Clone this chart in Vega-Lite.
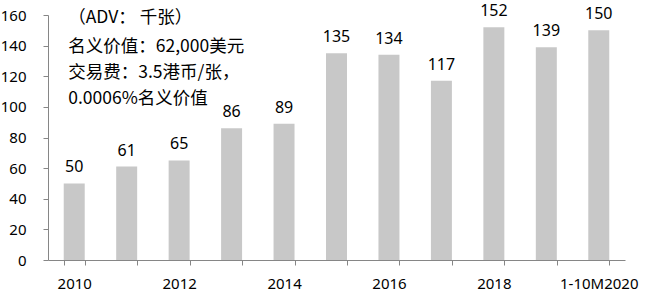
{
  "$schema": "https://vega.github.io/schema/vega-lite/v6.json",
  "width": 577,
  "height": 245,
  "autosize": "none",
  "padding": {"left": 48, "top": 15, "right": 20, "bottom": 40},
  "background": "white",
  "config": {"view": {"stroke": null}, "font": "Noto Sans", "axisY": {"labelOverlap": false}},
  "datasets": {
    "bars": [
      {"year": "2010", "adv": 50},
      {"year": "2011", "adv": 61},
      {"year": "2012", "adv": 65},
      {"year": "2013", "adv": 86},
      {"year": "2014", "adv": 89},
      {"year": "2015", "adv": 135},
      {"year": "2016", "adv": 134},
      {"year": "2017", "adv": 117},
      {"year": "2018", "adv": 152},
      {"year": "2019", "adv": 139},
      {"year": "1-10M2020", "adv": 150}
    ],
    "notes": [
      {"year": "2010", "adv": 158, "text": "（ADV： 千张）"},
      {"year": "2010", "adv": 139, "text": "名义价值：62,000美元"},
      {"year": "2010", "adv": 122, "text": "交易费：3.5港币/张，"},
      {"year": "2010", "adv": 105, "text": "0.0006%名义价值"}
    ]
  },
  "encoding": {
    "x": {
      "field": "year", "type": "nominal", "sort": null,
      "scale": {"domain": ["2010","2011","2012","2013","2014","2015","2016","2017","2018","2019","1-10M2020"], "paddingInner": 0.6, "paddingOuter": 0.3},
      "axis": {
        "title": null, "labelAngle": 0, "tickBand": "extent",
        "domainColor": "#868686", "tickColor": "#868686", "tickSize": 5,
        "labelColor": "#000000", "labelFontSize": 15, "labelPadding": 11,
        "labelFont": "Noto Sans", "labelOverlap": false,
        "labelExpr": "indexof(['2010','2012','2014','2016','2018','1-10M2020'], datum.value) >= 0 ? datum.label : ''"
      }
    },
    "y": {
      "field": "adv", "type": "quantitative",
      "scale": {"domain": [0, 160], "nice": false},
      "axis": {
        "title": null, "values": [0, 20, 40, 60, 80, 100, 120, 140, 160],
        "grid": false, "domainColor": "#868686", "tickColor": "#868686",
        "tickSize": 5, "labelColor": "#000000", "labelFontSize": 15,
        "labelPadding": 17, "labelFont": "Noto Sans", "labelOverlap": false,
        "labelFlush": false
      }
    }
  },
  "layer": [
    {
      "data": {"name": "bars"},
      "mark": {"type": "bar", "color": "#C8C8C8"}
    },
    {
      "data": {"name": "bars"},
      "mark": {"type": "text", "baseline": "bottom", "dy": -8, "fontSize": 16, "color": "#000000", "font": "Noto Sans"},
      "encoding": {"text": {"field": "adv"}}
    },
    {
      "data": {"name": "notes"},
      "mark": {"type": "text", "align": "left", "baseline": "middle", "dx": -6, "fontSize": 17.5, "color": "#000000", "font": "Noto Sans CJK SC"},
      "encoding": {"text": {"field": "text"}}
    }
  ]
}
